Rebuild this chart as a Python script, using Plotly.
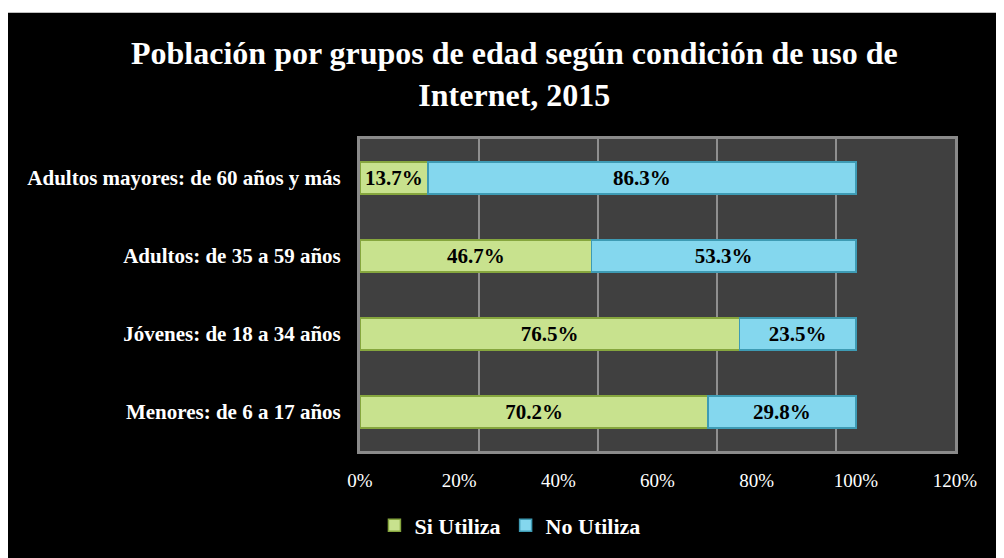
import plotly.graph_objects as go

# age groups, bottom to top as drawn
categorias = ["Menores: de 6 a 17 años",
              "Jóvenes: de 18 a 34 años",
              "Adultos: de 35 a 59 años",
              "Adultos mayores: de 60 años y más"]
si_utiliza = [70.2, 76.5, 46.7, 13.7]
no_utiliza = [29.8, 23.5, 53.3, 86.3]
ticks_x = [0, 20, 40, 60, 80, 100, 120]

serif = "Times New Roman, Liberation Serif, serif"

fig = go.Figure()

fig.add_trace(go.Bar(
    y=categorias, x=si_utiliza, name="Si Utiliza", orientation="h",
    marker=dict(color="#c8e28e", line=dict(color="#86a63e", width=1.5)),
    texttemplate="%{x:.1f}%", textposition="inside", insidetextanchor="middle",
    constraintext="none",
    textfont=dict(family=serif, size=21, color="black", weight="bold"),
))
fig.add_trace(go.Bar(
    y=categorias, x=no_utiliza, name="No Utiliza", orientation="h",
    marker=dict(color="#84d7ee", line=dict(color="#3e9bb4", width=1.5)),
    texttemplate="%{x:.1f}%", textposition="inside", insidetextanchor="middle",
    constraintext="none",
    textfont=dict(family=serif, size=21, color="black", weight="bold"),
))

fig.update_layout(
    width=996, height=550,
    barmode="stack", bargap=0.59,
    paper_bgcolor="black", plot_bgcolor="#404040",
    margin=dict(l=352, r=49, t=131, b=105),
    font=dict(family=serif, color="white"),
    legend=dict(
        orientation="h", x=0.252, xanchor="center", y=-0.239, yanchor="middle",
        font=dict(family=serif, size=22, color="white", weight="bold"),
        itemwidth=30, traceorder="normal", bgcolor="rgba(0,0,0,0)",
    ),
    showlegend=True,
    # thin white strip along the top edge, as in the original image
    shapes=[dict(type="rect", xref="paper", yref="paper",
                 x0=-1, x1=2, y0=1 + 127 / 314, y1=1 + 140 / 314,
                 fillcolor="white", line=dict(width=0), layer="above")],
)

# two-line title as an annotation so it sits where the original has it
fig.add_annotation(
    text="Población por grupos de edad según condición de uso de<br>Internet, 2015",
    xref="paper", yref="paper", x=0.259, y=1.2086,
    xanchor="center", yanchor="middle", showarrow=False,
    font=dict(family=serif, size=32, color="white", weight="bold"),
)

fig.update_xaxes(
    range=[0, 120], tickvals=ticks_x, ticktext=[f"{v}%" for v in ticks_x],
    showgrid=False, zeroline=False,
    minor=dict(tick0=0, dtick=24, showgrid=True, gridcolor="#8f8f8f", gridwidth=2, ticks=""),
    showline=True, mirror=True, linecolor="#8a8a8a", linewidth=3,
    tickfont=dict(family=serif, size=19, color="white"),
    ticklabelstandoff=10,
)
fig.update_yaxes(
    showgrid=False, zeroline=False,
    showline=True, mirror=True, linecolor="#8a8a8a", linewidth=3,
    tickfont=dict(family=serif, size=21, color="white", weight="bold"),
    ticklabelstandoff=12,
)

fig.write_html("out.html")
